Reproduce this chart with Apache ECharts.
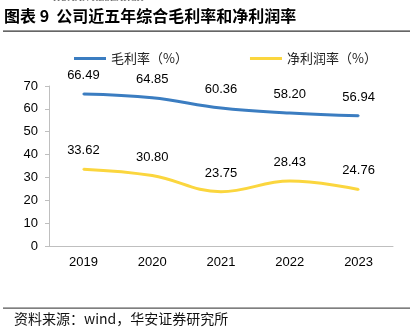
<!DOCTYPE html>
<html>
<head>
<meta charset="utf-8">
<script src="https://cdn.jsdelivr.net/npm/echarts@6/dist/echarts.min.js"></script>
<style>
html,body{margin:0;padding:0;background:#fff;}
#chart{width:410px;height:333px;}
</style>
</head>
<body>
<div id="chart"></div>
<script>
// Company gross margin and net margin, 2019-2023
const years = ['2019', '2020', '2021', '2022', '2023'];
const grossMargin = [66.49, 64.85, 60.36, 58.20, 56.94];
const netMargin = [33.62, 30.80, 23.75, 28.43, 24.76];
const yTicks = [0, 10, 20, 30, 40, 50, 60, 70];

const blue = '#3b7dc1';
const yellow = '#fbd63e';

const chart = echarts.init(document.getElementById('chart'));
const cjk = '"Noto Sans CJK SC", sans-serif';
const latin = 'Arial, "Liberation Sans", sans-serif';

function valueLabel() {
  return {
    show: true, position: 'top', distance: 11,
    formatter: p => p.value.toFixed(2),
    color: '#000', fontFamily: latin, fontSize: 13
  };
}

chart.setOption({
  animation: false,
  graphic: [
    { type: 'text', left: 53, top: -7, style: { text: 'HUAAN RESEARCH', font: '10px "Liberation Serif", serif', fill: '#6a6a6a' } },
    { type: 'text', left: 4, top: 8, style: { text: '图表 9  公司近五年综合毛利率和净利润率', font: 'bold 16px ' + cjk, fill: '#000' } },
    { type: 'rect', shape: { x: 3, y: 30.5, width: 407, height: 1.3 }, style: { fill: '#333' } },
    { type: 'rect', shape: { x: 3, y: 307.5, width: 407, height: 1.3 }, style: { fill: '#555' } },
    { type: 'text', left: 14, top: 312, style: { text: '资料来源：wind，华安证券研究所', font: '14px ' + cjk, fill: '#111' } }
  ],
  legend: {
    top: 47,
    left: 69,
    itemGap: 62,
    itemWidth: 32,
    itemHeight: 3,
    icon: 'rect',
    textStyle: { fontFamily: cjk, fontSize: 13, color: '#222' },
    data: [
      { name: '毛利率（%）', itemStyle: { color: blue } },
      { name: '净利润率（%）', itemStyle: { color: yellow } }
    ]
  },
  grid: { left: 49, right: 17, top: 86, bottom: 87 },
  xAxis: {
    type: 'category',
    data: years,
    boundaryGap: true,
    axisLine: { lineStyle: { color: '#bfbfbf' } },
    axisTick: { show: false },
    axisLabel: { color: '#000', fontFamily: latin, fontSize: 13, margin: 10 }
  },
  yAxis: {
    type: 'value',
    min: yTicks[0],
    max: yTicks[yTicks.length - 1],
    interval: 10,
    splitLine: { show: false },
    axisLine: { show: true, lineStyle: { color: '#bfbfbf' } },
    axisTick: { show: true, length: 4, lineStyle: { color: '#bfbfbf' } },
    axisLabel: { color: '#000', fontFamily: latin, fontSize: 13, margin: 11 }
  },
  series: [
    {
      name: '毛利率（%）',
      type: 'line',
      data: grossMargin,
      smooth: 0.4,
      symbol: 'circle',
      symbolSize: 2,
      showSymbol: true,
      lineStyle: { color: blue, width: 3 },
      itemStyle: { color: blue },
      label: valueLabel()
    },
    {
      name: '净利润率（%）',
      type: 'line',
      data: netMargin,
      smooth: 0.4,
      symbol: 'circle',
      symbolSize: 2,
      showSymbol: true,
      lineStyle: { color: yellow, width: 3 },
      itemStyle: { color: yellow },
      label: valueLabel()
    }
  ]
});
</script>
</body>
</html>
